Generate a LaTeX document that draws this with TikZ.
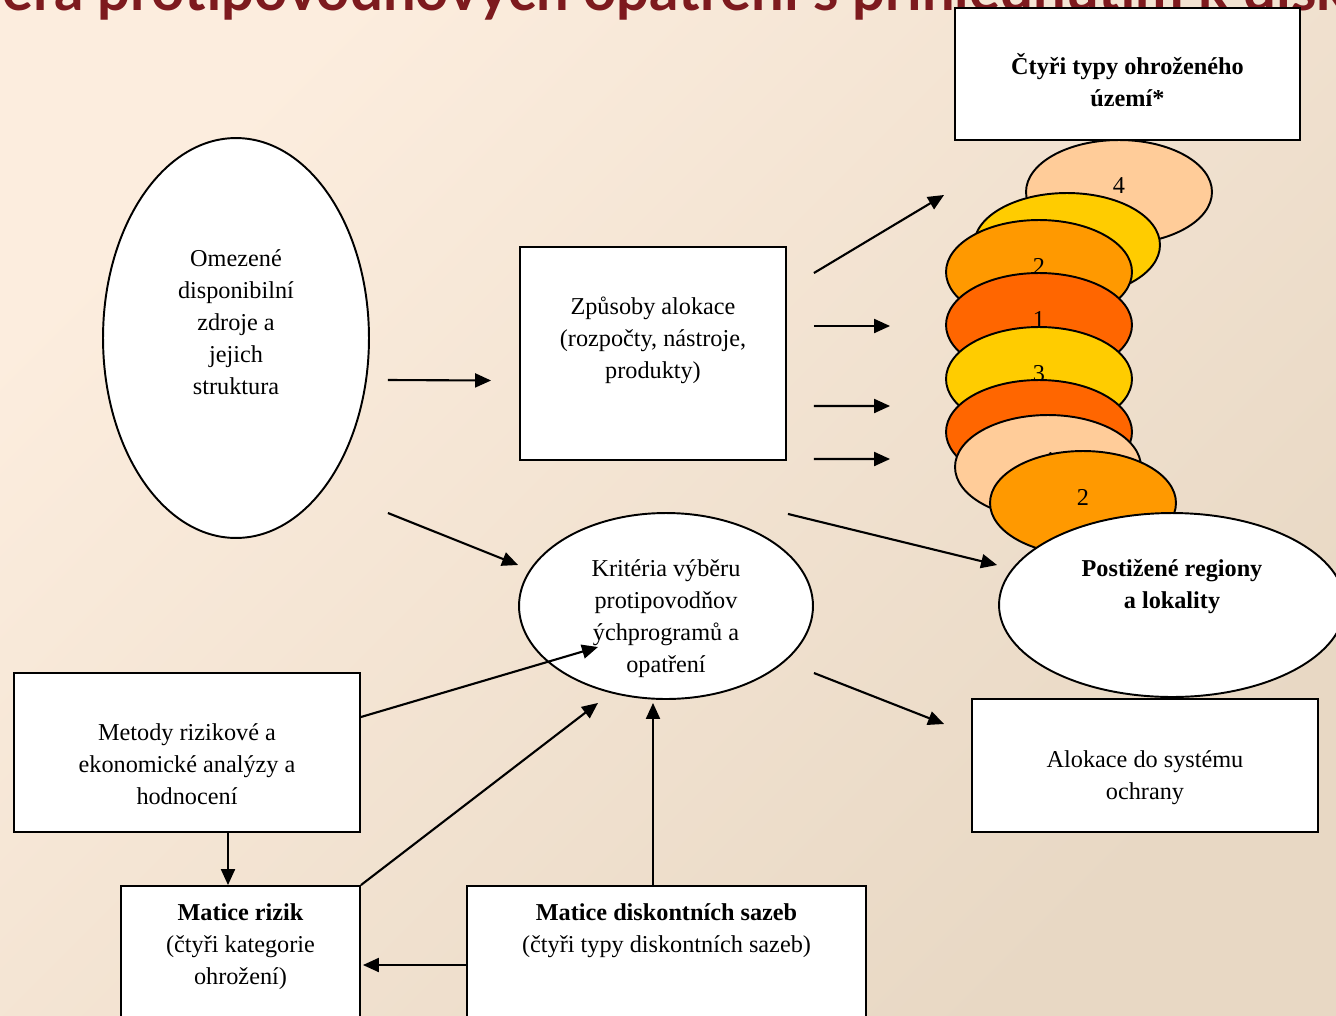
\documentclass[tikz,border=0pt]{standalone}
\usepackage{fontspec}
\setmainfont{Liberation Serif}
\newfontfamily\titlefont{Lato}
\usetikzlibrary{arrows.meta,shapes.geometric}
\definecolor{bgtop}{RGB}{252,237,222}
\definecolor{bgbottom}{RGB}{232,216,196}
\definecolor{titlered}{RGB}{125,26,30}
\definecolor{peach}{RGB}{255,204,153}
\definecolor{gold}{RGB}{255,204,0}
\definecolor{amber}{RGB}{255,153,0}
\definecolor{flame}{RGB}{255,102,0}
\newcommand\bodysize{\fontsize{13.8pt}{18.2pt}\selectfont}
\tikzset{
    box/.style={rectangle,draw,fill=white,line width=1.1pt,inner sep=0pt,align=center},
    oval/.style={ellipse,draw,fill=white,line width=1.1pt,inner sep=0pt,align=center},
    disc/.style={ellipse,draw,line width=1.1pt,minimum width=3.72cm,minimum height=2.08cm,inner sep=0pt,text depth=0.24cm},
    pre/.style={-{Stealth[inset=0pt,length=0.32cm,width=0.28cm]},line width=1.2pt}
}

\begin{document}
\begin{tikzpicture}[x=0.02cm,y=-0.02cm,font=\bodysize]

                \useasboundingbox (0,0) rectangle (1336,1015);
                \shade[top color=bgtop,bottom color=bgbottom,shading angle=45] (0,0) rectangle (1336,1015);
                \clip (0,0) rectangle (1336,1015);

                \node[font=\titlefont\bfseries\fontsize{33pt}{33pt}\selectfont,text=titlered,anchor=base west] (title) at (-4,10) {era protipovodňových opatření s přihlédnutím k diskontování};

                \node[oval] (zdroje) [minimum width=5.32cm,minimum height=8cm] at (236,338) {Omezené\\disponibilní\\zdroje a\\jejich\\struktura\\~};
                \node[box] (alokace) [minimum width=5.32cm,minimum height=4.26cm] at (653,353.5) {Způsoby alokace\\(rozpočty, nástroje,\\produkty)\\~};
                \node[oval] (kriteria) [inner ysep=-0.5cm,minimum width=5.88cm,minimum height=3.72cm] at (666,606) {~\\[6pt]Kritéria výběru\\protipovodňov\\ýchprogramů a\\opatření};
                \node[box] (metody) [minimum width=6.92cm,minimum height=3.18cm] at (187,752.5) {~\\[4.9pt]Metody rizikové a\\ekonomické analýzy a\\hodnocení};
                \node[box] (rizika) [minimum width=4.78cm,minimum height=3.16cm] at (240.5,965) {\textbf{Matice rizik}\\(čtyři kategorie\\ohrožení)\\[5.6pt]~};
                \node[box] (sazby) [minimum width=7.98cm,minimum height=3.16cm] at (666.5,965) {\textbf{Matice diskontních sazeb}\\(čtyři typy diskontních sazeb)\\[5.6pt]~\\~};
                \node[box] (ochrana) [minimum width=6.92cm,minimum height=2.66cm] at (1145,765.5) {~\\[4.9pt]Alokace do systému\\ochrany};
                \node[box] (typy) [font=\bodysize\bfseries,minimum width=6.9cm,minimum height=2.64cm] at (1127.5,74) {~\\[1pt]Čtyři typy ohroženého\\území*};

                \node[disc] (typ 1) [fill=peach] at (1119,192) {4};
                \node[disc] (typ 2) [fill=gold]  at (1067,245) {};
                \node[disc] (typ 3) [fill=amber] at (1039,272) {2};
                \node[disc] (typ 4) [fill=flame] at (1039,325) {1};
                \node[disc] (typ 5) [fill=gold]  at (1039,379) {3};
                \node[disc] (typ 6) [fill=flame] at (1039,432) {};
                \node[disc] (typ 7) [fill=peach] at (1048,467) {4};
                \node[disc] (typ 8) [fill=amber] at (1083,503) {2};

                \node[oval] (regiony) [font=\bodysize\bfseries,minimum width=6.92cm,minimum height=3.68cm] at (1172,605) {Postižené regiony\\a lokality\\[5.6pt]~};

                \draw[pre] ([shift={(18,42)}]zdroje.east) -- ([shift={(-28,27)}]alokace.west);
                \draw[pre] ([shift={(18,175)}]zdroje.east) -- ([shift={(0,-41)}]kriteria.west);
                \draw[pre] ([shift={(27,-80.5)}]alokace.east) -- ([shift={(-81,3)}]typ 1.west);
                \draw[pre] ([shift={(27,-27.5)}]alokace.east) -- ([shift={(-55,1)}]typ 4.west);
                \draw[pre] ([shift={(27,52.5)}]alokace.east) -- ([shift={(-55,27)}]typ 5.west);
                \draw[pre] ([shift={(27,105.5)}]alokace.east) -- ([shift={(-55,27)}]typ 6.west);
                \draw[pre] ([shift={(1,53)}]alokace.south east) -- ([shift={(-1,-40)}]regiony.west);
                \draw[pre] ([shift={(0,-35.5)}]metody.east) -- ([shift={(-68,41)}]kriteria.center);
                \draw[pre] (rizika.north east) -- ([shift={(-68,3)}]kriteria.south);
                \draw[pre] ([shift={(-13.5,0)}]sazby.north) -- ([shift={(-13,3)}]kriteria.south);
                \draw[pre] ([shift={(0,67)}]kriteria.east) -- ([shift={(-27,-41.5)}]ochrana.west);
                \draw[pre] ([shift={(41,0)}]metody.south) -- ([shift={(-12.5,0)}]rizika.north);
                \draw[pre] (sazby.west) -- ([shift={(2,0)}]rizika.east);

            \end{tikzpicture}
\end{document}
